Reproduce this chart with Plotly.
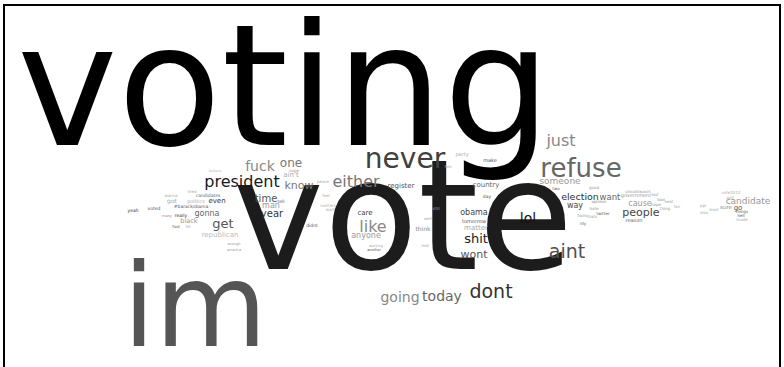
import plotly.graph_objects as go

# ---- data: words and their (estimated) frequencies ----
words = [
    "voting", "vote", "im", "never", "refuse", "aint", "dont", "just", "president", "either",
    "like", "fuck", "going", "today", "lol", "get", "shit", "one", "know", "wont",
    "people", "time", "year", "election", "someone", "candidate", "want", "man", "gonna", "anyone",
    "obama", "way", "cause", "ain't", "even", "republican", "care", "matter", "register", "country",
    "go", "black", "think", "got", "sure", "party", "make", "politics", "tomorrow", "reason",
    "government", "candidates", "#barackobama", "really", "yeah", "voted", "didnt", "tell", "day", "two",
    "good", "opinion", "twitter", "hate", "thats", "should", "wasnt", "lost", "bad", "next",
    "hope", "thing", "fair", "ppl", "also", "least", "vote2012", "things", "hell", "made",
    "poll", "enough", "america", "believe", "many", "working", "another", "fool", "lie", "wanna",
    "tired", "feel", "matters", "wait", "peace", "hes", "fools", "rlly", "well", "nope",
    "real", "still",
]
freq = [
    680, 616, 460, 112, 104, 76, 76, 64, 64, 64,
    64, 56, 56, 56, 56, 52, 52, 48, 44, 44,
    44, 40, 40, 38, 36, 36, 34, 32, 32, 32,
    32, 32, 32, 28, 28, 28, 28, 28, 28, 28,
    28, 26, 24, 24, 22, 20, 20, 20, 20, 20,
    20, 18, 18, 18, 18, 18, 18, 18, 18, 16,
    16, 16, 16, 16, 16, 16, 16, 16, 16, 16,
    16, 16, 16, 16, 16, 16, 16, 16, 16, 16,
    16, 14, 14, 14, 14, 14, 14, 16, 16, 16,
    16, 16, 16, 16, 16, 16, 16, 16, 16, 16,
    16, 16,
]

# ---- layout of the cloud (pixel positions: centre x, baseline y) and styles ----
pos_x = [
    284, 403, 195, 405, 581, 567, 491, 561, 242, 356,
    373, 260, 400, 442, 528, 223, 476, 291, 299, 474,
    641, 266, 272, 580, 560, 748, 610, 271, 207, 366,
    474, 575, 640, 291, 217, 220, 365, 476, 401, 486,
    738, 189, 423, 172, 726, 462, 490, 196, 474, 634,
    636, 208, 191, 181, 133, 154, 312, 281, 487, 556,
    594, 599, 603, 594, 592, 632, 645, 655, 661, 669,
    656, 665, 677, 703, 704, 714, 731, 742, 741, 742,
    730, 234, 234, 215, 167, 376, 374, 176, 188, 171,
    192, 326, 328, 330, 323, 448, 582, 583, 428, 294,
    425, 436,
]
pos_base = [
    148, 271, 348, 168, 177, 258, 298, 146, 187, 187,
    232, 171, 302, 301, 223, 228, 243, 167, 189, 258,
    216, 202, 217, 200, 184, 204, 200, 208, 216, 238,
    215, 208, 206, 177, 203, 237, 215, 230, 188, 187,
    210, 223, 231, 203, 209, 156, 162, 203, 223, 222,
    197, 197, 208, 217, 212, 210, 227, 203, 198, 190,
    189, 203, 215, 210, 218, 193, 193, 196, 201, 203,
    206, 210, 208, 207, 214, 211, 194, 213, 217, 221,
    199, 245, 251, 172, 217, 247, 251, 228, 228, 197,
    193, 197, 207, 211, 183, 168, 217, 225, 220, 172,
    247, 210,
]
colors = [
    "#000000", "#1c1c1c", "#555555", "#404040", "#666666", "#505050", "#333333", "#888888", "#1a1a1a", "#777777",
    "#888888", "#888888", "#888888", "#666666", "#111111", "#555555", "#222222", "#777777", "#777777", "#555555",
    "#444444", "#555555", "#333333", "#333333", "#999999", "#999999", "#666666", "#999999", "#666666", "#999999",
    "#444444", "#444444", "#999999", "#aaaaaa", "#333333", "#bbbbbb", "#444444", "#aaaaaa", "#555555", "#666666",
    "#555555", "#999999", "#888888", "#aaaaaa", "#888888", "#aaaaaa", "#555555", "#aaaaaa", "#555555", "#666666",
    "#999999", "#666666", "#555555", "#333333", "#333333", "#555555", "#555555", "#555555", "#555555", "#555555",
    "#999999", "#888888", "#555555", "#999999", "#999999", "#999999", "#999999", "#999999", "#999999", "#999999",
    "#999999", "#999999", "#aaaaaa", "#aaaaaa", "#aaaaaa", "#aaaaaa", "#aaaaaa", "#555555", "#555555", "#aaaaaa",
    "#aaaaaa", "#999999", "#999999", "#bbbbbb", "#888888", "#aaaaaa", "#555555", "#555555", "#aaaaaa", "#aaaaaa",
    "#aaaaaa", "#aaaaaa", "#aaaaaa", "#aaaaaa", "#aaaaaa", "#aaaaaa", "#999999", "#555555", "#aaaaaa", "#999999",
    "#aaaaaa", "#aaaaaa",
]

FONT_PER_COUNT = 0.25        # font size (px) per occurrence
BASELINE_SHIFT = 0.265       # plotly 'middle center' baseline offset (em)

sizes = [f * FONT_PER_COUNT for f in freq]
ys = [b - BASELINE_SHIFT * s for b, s in zip(pos_base, sizes)]

W, H = 784, 367

fig = go.Figure(go.Scatter(
    x=pos_x, y=ys, text=words, mode="text",
    textposition="middle center",
    textfont=dict(family="DejaVu Sans", size=sizes, color=colors),
    hoverinfo="skip", showlegend=False,
))

fig.add_shape(type="rect", xref="x", yref="y", x0=4, x1=780, y0=5, y1=380,
              line=dict(color="black", width=2), fillcolor="rgba(0,0,0,0)")

fig.update_layout(
    width=W, height=H, margin=dict(l=0, r=0, t=0, b=0),
    paper_bgcolor="white", plot_bgcolor="white",
    xaxis=dict(range=[0, W], visible=False, fixedrange=True),
    yaxis=dict(range=[H, 0], visible=False, fixedrange=True),
)

fig.write_html("out.html", config={"displayModeBar": False, "staticPlot": True},
               post_script="document.body.style.margin='0';")
